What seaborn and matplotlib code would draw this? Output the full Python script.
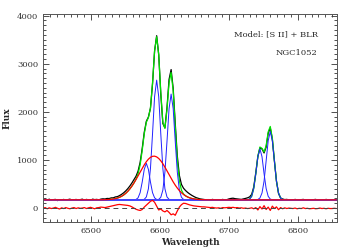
import numpy as np
import pandas as pd
import matplotlib
matplotlib.use("Agg")
import matplotlib.pyplot as plt
import seaborn as sns

# wavelength grid of the spectrum (3 A steps)
wave = np.arange(6430, 6857, 3)

# continuum level and fitted components
continuum = 170
narrow_center = [6580, 6595, 6616, 6745, 6760]
narrow_amp = [760, 2490, 2200, 1060, 1420]
narrow_sigma = [5.0, 5.5, 5.5, 5.2, 5.6]
broad_center = 6591
broad_amp = 910
broad_sigma = 21

# observed minus model, one value per grid point
resid = [
    -5, 10, -15, 5, -10, 0, 15, -5, -20, 5,
    -10, 10, -5, -15, 0, 10, -10, 5, -5, 0,
    10, -10, 5, 15, 0, -15, 5, 10, 20, 15,
    10, 20, 30, 40, 50, 60, 70, 75, 70, 65,
    60, 55, 45, 25, 0, -25, -40, -50, -30, 20,
    60, 100, 140, 160, 120, 40, -40, -20, -60, -80,
    -50, -90, -140, -120, -150, -60, 20, 70, 100, 95,
    80, 65, 55, 45, 40, 35, 30, 25, 25, 20,
    15, 10, 15, 5, 0, 5, -5, 10, 5, 10,
    15, 10, 15, 5, 10, 0, 5, -5, 0, -10,
    -5, 5, -15, 10, -40, 30, -20, 50, -30, 20,
    -50, 40, -10, 25, -35, 10, -15, 5, -10, 0,
    -5, -10, 0, -15, -5, -10, 5, -10, -5, -15,
    -10, -5, -15, -10, 0, -10, -5, -15, -5, -10,
    -10, -5, -10,
]

# observed spectrum minus the green total model
obs_dev = [
    0, 10, -5, 15, -10, 5, 10, -15, 5, -5,
    10, -10, 5, 15, -5, 0, 10, -10, 5, 15,
    -5, 10, 0, -10, 15, 5, 10, 0, 15, 20,
    15, 25, 20, 30, 25, 35, 30, 35, 40, 45,
    50, 55, 60, 65, 70, 60, 55, 50, 40, 30,
    20, 10, 0, -20, 0, 20, 0, -40, -20, 10,
    40, 70, 60, 50, 70, 90, 110, 120, 120, 110,
    95, 80, 65, 50, 35, 25, 15, 10, 5, 0,
    5, -5, 10, 0, -10, 5, 0, 10, -5, 5,
    20, 30, 35, 25, 20, 15, 10, 20, 30, 40,
    45, 40, 30, 20, 0, -20, 20, 40, 60, 80,
    60, 30, 10, 0, -10, 0, 10, 5, 10, 0,
    5, -5, 10, 0, -10, 5, 10, -5, 0, 5,
    -5, 5, 10, -10, 0, 5, -5, 10, 0, -5,
    5, 0, -5,
]

# total model without the observed scatter, as drawn in green
model_dev = [0] * 106 + [30, 60, 90, 110, 90, 50, 20] + [0] * 30


def gauss(x, c, a, s):
    return a * np.exp(-0.5 * ((x - c) / s) ** 2)


narrow = [continuum + gauss(wave, c, a, s)
          for c, a, s in zip(narrow_center, narrow_amp, narrow_sigma)]
broad = continuum + gauss(wave, broad_center, broad_amp, broad_sigma)
model = continuum + sum(n - continuum for n in narrow) + (broad - continuum)
model = model + np.array(model_dev)
observed = model + np.array(obs_dev) - np.array(model_dev)

sns.set_style("ticks")
plt.rcParams["font.family"] = ["DejaVu Serif"]
plt.rcParams["xtick.direction"] = "in"
plt.rcParams["ytick.direction"] = "in"

fig = plt.figure(figsize=(3.5, 2.5), dpi=100)
ax = fig.add_axes([0.123, 0.112, 0.840, 0.832])

lw = 0.9
sns.lineplot(x=wave, y=observed, ax=ax, color="black", lw=lw)
sns.lineplot(x=wave, y=model, ax=ax, color="#00e000", lw=lw)
for n in narrow:
    sns.lineplot(x=wave, y=n, ax=ax, color="#2020ff", lw=0.7)
sns.lineplot(x=wave, y=np.full(len(wave), continuum), ax=ax, color="#4848ff", lw=1.3)
sns.lineplot(x=wave, y=broad, ax=ax, color="#ff0000", lw=lw)
sns.lineplot(x=wave, y=resid, ax=ax, color="#ff0000", lw=lw)
ax.axhline(0, color="#444444", lw=0.7, ls=(0, (5, 4)))

ax.set_xlim(6430, 6857)
ax.set_ylim(-290, 4035)
ax.set_xticks([6500, 6600, 6700, 6800])
ax.set_yticks([0, 1000, 2000, 3000, 4000])
ax.xaxis.set_minor_locator(matplotlib.ticker.MultipleLocator(10))
ax.yaxis.set_minor_locator(matplotlib.ticker.MultipleLocator(100))
ax.tick_params(which="both", top=True, right=True, labelsize=6,
               colors="#333333", width=0.6)
ax.tick_params(which="major", length=4)
ax.tick_params(which="minor", length=2)
for sp in ax.spines.values():
    sp.set_color("#555555")
    sp.set_linewidth(0.7)

ax.set_xlabel("Wavelength", fontsize=6.5, fontweight="bold", labelpad=2)
ax.set_ylabel("Flux", fontsize=6.5, fontweight="bold", labelpad=4)
ax.text(6829, 3605, "Model: [S II] + BLR", fontsize=6, ha="right", va="center")
ax.text(6829, 3214, "NGC1052", fontsize=6, ha="right", va="center")

fig.savefig("out.png", dpi=100)
